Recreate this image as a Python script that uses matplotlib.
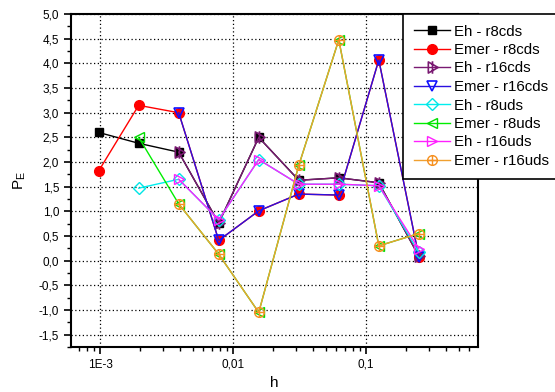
import numpy as np
import matplotlib
matplotlib.use("Agg")
import matplotlib.pyplot as plt
from matplotlib.path import Path
from matplotlib.ticker import FixedLocator, FuncFormatter, MultipleLocator, LogLocator, NullFormatter

plt.rcParams['font.family'] = ['Liberation Sans', 'DejaVu Sans']

h = [2**-10, 2**-9, 2**-8, 2**-7, 2**-6, 2**-5, 2**-4, 2**-3, 2**-2]
nan = np.nan
eh_r8cds    = [2.60, 2.38, 2.20, 0.76, 2.50, 1.63, 1.68, 1.58, 0.09]
emer_r8cds  = [1.82, 3.15, 3.00, 0.41, 1.01, 1.35, 1.33, 4.07, 0.08]
eh_r16cds   = [nan, nan, 2.20, 0.76, 2.50, 1.63, 1.68, 1.58, 0.09]
emer_r16cds = [nan, nan, 3.00, 0.41, 1.01, 1.35, 1.33, 4.07, 0.08]
eh_r8uds    = [nan, 1.47, 1.65, 0.83, 2.05, 1.55, 1.55, 1.52, 0.17]
emer_r8uds  = [nan, 2.50, 1.15, 0.13, -1.05, 1.93, 4.48, 0.30, 0.55]
eh_r16uds   = [nan, nan, 1.65, 0.83, 2.05, 1.55, 1.55, 1.52, 0.24]
emer_r16uds = [nan, nan, 1.15, 0.13, -1.05, 1.93, 4.48, 0.30, 0.55]

labels = ["Eh - r8cds", "Emer - r8cds", "Eh - r16cds", "Emer - r16cds",
          "Eh - r8uds", "Emer - r8uds", "Eh - r16uds", "Emer - r16uds"]

# custom markers
tri_bar = Path([(-0.6, -0.8), (0.8, 0.0), (-0.6, 0.8), (-0.6, -0.8), (0.0, -0.9), (0.0, 0.9)],
               [Path.MOVETO, Path.LINETO, Path.LINETO, Path.CLOSEPOLY, Path.MOVETO, Path.LINETO])
circ = Path.unit_circle()
plus = Path([(-1, 0), (1, 0), (0, -1), (0, 1)], [Path.MOVETO, Path.LINETO, Path.MOVETO, Path.LINETO])
circ_plus = Path.make_compound_path(circ, plus)

fig = plt.figure(figsize=(5.55, 3.92), dpi=100)
ax = fig.add_axes([0.128, 0.115, 0.733, 0.849])

series = [
    (eh_r8cds,    dict(color='black', marker='s', mfc='black', mec='black', ms=6)),
    (emer_r8cds,  dict(color='red', marker='o', mfc='red', mec='red', ms=7)),
    (eh_r16cds,   dict(color='#7a1a72', marker=tri_bar, mfc='none', mec='#7a1a72', ms=9, mew=1.2)),
    (emer_r16cds, dict(color='#2a10e0', marker='v', mfc='none', mec='#1010ff', ms=7, mew=1.2)),
    (eh_r8uds,    dict(color='#00eeee', marker='D', mfc='none', mec='#00e5e5', ms=6, mew=1.0)),
    (emer_r8uds,  dict(color='#00ee00', marker='<', mfc='none', mec='#00dd00', ms=7, mew=1.0)),
    (eh_r16uds,   dict(color='#ff20ff', marker='>', mfc='none', mec='#ff20ff', ms=7, mew=1.0)),
    (emer_r16uds, dict(color='#f0a030', marker=circ_plus, mfc='none', mec='#f59020', ms=7, mew=1.0)),
]
handles = []
for (vals, st), lab in zip(series, labels):
    ln, = ax.plot(h, vals, lw=1.0, label=lab, **st)
    handles.append(ln)

ax.set_xscale('log')
ax.set_xlim(6.05e-4, 0.695)
ax.set_ylim(-1.75, 5.0)

ax.xaxis.set_major_locator(FixedLocator([1e-3, 1e-2, 1e-1]))
ax.xaxis.set_major_formatter(FuncFormatter(lambda v, p: {1e-3: '1E-3', 1e-2: '0,01', 1e-1: '0,1'}.get(v, '')))
ax.xaxis.set_minor_locator(LogLocator(base=10, subs=np.arange(2, 10)))
ax.xaxis.set_minor_formatter(NullFormatter())
ax.yaxis.set_major_locator(MultipleLocator(0.5))
ax.yaxis.set_minor_locator(MultipleLocator(0.25))
ax.yaxis.set_major_formatter(FuncFormatter(lambda v, p: ('%.1f' % v).replace('.', ',').replace('-0,0', '0,0')))

ax.grid(True, which='major', color='black', linestyle=(0, (1, 2)), linewidth=0.9)
ax.tick_params(which='major', direction='out', length=5, width=1.2, labelsize=8.5, colors='black')
ax.tick_params(which='minor', direction='out', length=3, width=1.0)
ax.tick_params(axis='both', top=False, right=False)
for s in ax.spines.values():
    s.set_linewidth(1.5)
ax.set_axisbelow(True)

ax.set_xlabel('h', fontsize=11, labelpad=4)
ax.set_ylabel(r'P$_\mathregular{E}$', fontsize=11, labelpad=8)

leg = fig.legend(handles=handles, labels=labels, loc='upper left',
                 bbox_to_anchor=(403 / 555, 1 - 14 / 392), fontsize=10.8, frameon=True,
                 fancybox=False, framealpha=1, edgecolor='black',
                 handlelength=2.4, handletextpad=0.3, labelspacing=0.3,
                 borderpad=0.7, borderaxespad=0.0)
leg.get_frame().set_linewidth(1.2)

fig.savefig('out.png', dpi=100)
